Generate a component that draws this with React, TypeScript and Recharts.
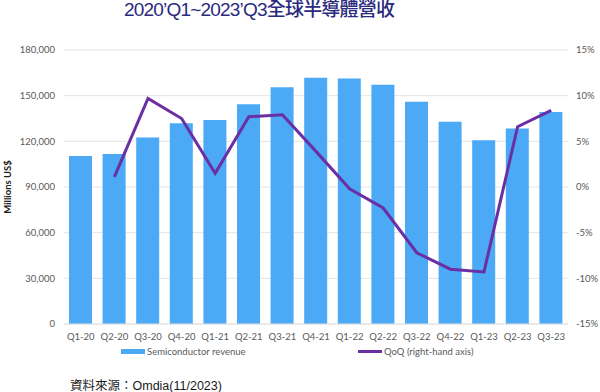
import { Bar, CartesianGrid, ComposedChart, Line, XAxis, YAxis } from "recharts";

const quarters = [
  "Q1-20", "Q2-20", "Q3-20", "Q4-20",
  "Q1-21", "Q2-21", "Q3-21", "Q4-21",
  "Q1-22", "Q2-22", "Q3-22", "Q4-22",
  "Q1-23", "Q2-23", "Q3-23",
];

// Millions US$
const revenue = [
  110300, 111700, 122600, 131800,
  134000, 144300, 155500, 161700,
  161300, 157200, 146000, 132900,
  120700, 128500, 139300,
];

// QoQ growth, %
const qoq = [
  null, 1.1, 9.7, 7.5,
  1.5, 7.7, 7.9, 3.9,
  -0.2, -2.3, -7.2, -9.0,
  -9.3, 6.6, 8.4,
];

const leftTicks = [0, 30000, 60000, 90000, 120000, 150000, 180000];
const rightTicks = [-15, -10, -5, 0, 5, 10, 15];

const data = quarters.map((q, i) => ({ q, revenue: revenue[i], qoq: qoq[i] }));

const BLUE = "#4BA9F6";
const PURPLE = "#6A2FA2";
const TICK = { fontSize: 9.5, fill: "#595959", fontFamily: "Lato, sans-serif" };

export default function App() {
  return (
    <div
      style={{
        position: "absolute",
        left: 0,
        top: 0,
        width: 600,
        height: 392,
        background: "#fff",
        fontFamily: "Lato, sans-serif",
      }}
    >
      <div
        style={{
          position: "absolute",
          left: 124,
          top: -1,
          fontSize: 19,
          lineHeight: "22px",
          fontWeight: 500,
          letterSpacing: -0.8,
          color: "#2A2A7E",
          fontFamily: "'Liberation Sans Narrow', 'Liberation Sans', 'Noto Sans CJK TC', sans-serif",
          whiteSpace: "nowrap",
        }}
      >
        2020’Q1~2023’Q3全球半導體營收
      </div>

      <ComposedChart
        width={600}
        height={392}
        data={data}
        margin={{ top: 50, right: 4, bottom: 38, left: 4 }}
      >
        <CartesianGrid yAxisId="left" vertical={false} stroke="#E4E4E4" />
        <XAxis
          dataKey="q"
          tick={TICK}
          tickLine={false}
          axisLine={{ stroke: "#E0E0E0" }}
          tickMargin={3}
          interval={0}
        />
        <YAxis
          yAxisId="left"
          width={60}
          domain={[0, 180000]}
          ticks={leftTicks}
          tick={TICK}
          tickLine={false}
          axisLine={false}
          tickMargin={3}
          tickFormatter={(v: number) => v.toLocaleString("en-US")}
          label={{
            value: "Millions US$",
            angle: -90,
            position: "insideLeft",
            offset: 4,
            style: { fontSize: 9.5, fontWeight: 700, fill: "#222", textAnchor: "middle" },
          }}
        />
        <YAxis
          yAxisId="right"
          orientation="right"
          width={28}
          domain={[-15, 15]}
          ticks={rightTicks}
          tick={{ ...TICK, textAnchor: "start" }}
          tickLine={false}
          axisLine={false}
          tickMargin={2}
          tickFormatter={(v: number) => `${v}%`}
        />
        <Bar
          yAxisId="left"
          dataKey="revenue"
          fill={BLUE}
          barSize={23}
          isAnimationActive={false}
        />
        <Line
          yAxisId="right"
          dataKey="qoq"
          type="linear"
          stroke={PURPLE}
          strokeWidth={3}
          dot={false}
          isAnimationActive={false}
        />
      </ComposedChart>

      <div style={{ position: "absolute", left: 121, top: 346, fontSize: 9.5, color: "#595959", display: "flex", alignItems: "center" }}>
        <span style={{ display: "inline-block", width: 24, height: 5, background: BLUE, marginRight: 2 }} />
        Semiconductor revenue
      </div>
      <div style={{ position: "absolute", left: 358, top: 346, fontSize: 9.5, color: "#595959", display: "flex", alignItems: "center" }}>
        <span style={{ display: "inline-block", width: 24, height: 3, background: PURPLE, marginRight: 2 }} />
        QoQ (right-hand axis)
      </div>

      <div
        style={{
          position: "absolute",
          left: 70,
          top: 375,
          fontSize: 12.5,
          color: "#1a1a1a",
          fontFamily: "'Liberation Sans', 'Noto Sans CJK TC', sans-serif",
          whiteSpace: "nowrap",
        }}
      >
        資料來源：Omdia(11/2023)
      </div>
    </div>
  );
}
